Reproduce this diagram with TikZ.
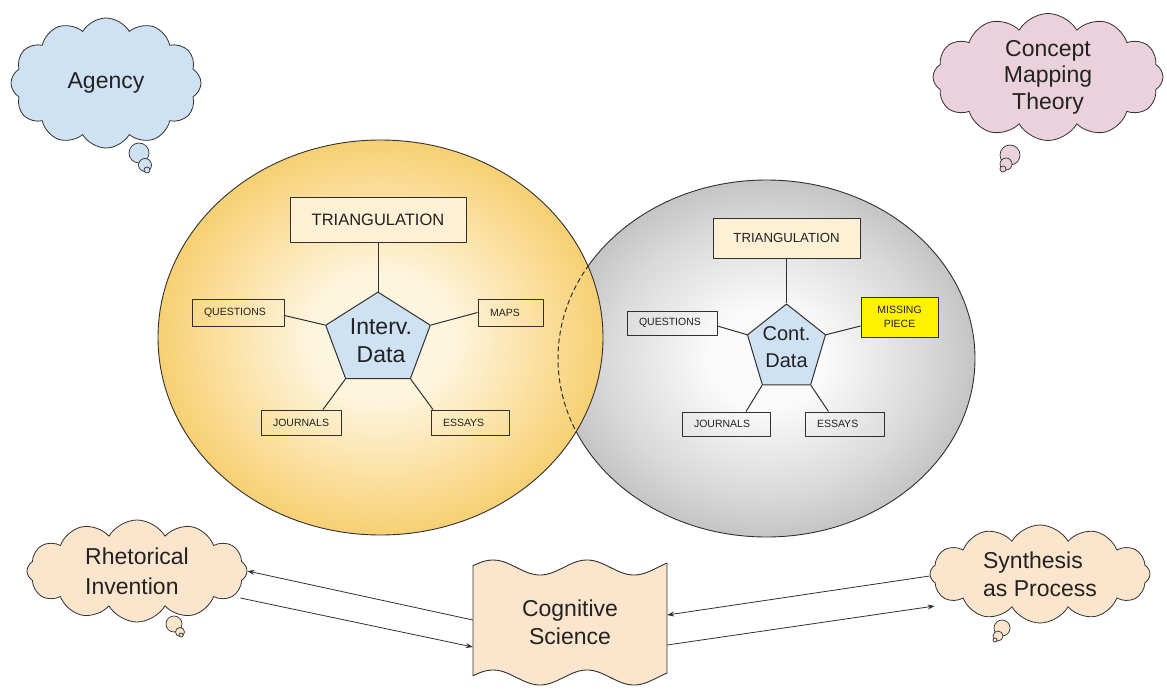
\documentclass[tikz,border=0pt]{standalone}
\usepackage{fontspec}
\setmainfont{Liberation Sans}
\usetikzlibrary{shapes.symbols,shapes.geometric,arrows.meta}
\definecolor{cblue}{HTML}{CFE2F3}
\definecolor{cpink}{HTML}{EAD1DC}
\definecolor{cpeach}{HTML}{FCE5CD}
\definecolor{ycore}{HTML}{FEF5DF}
\definecolor{ymid}{HTML}{FADD98}
\definecolor{yedge}{HTML}{F3C554}
\definecolor{gcore}{HTML}{FAFAFA}
\definecolor{gmid}{HTML}{D9D9D9}
\definecolor{gedge}{HTML}{B0B0B0}
\definecolor{cream}{HTML}{FDF0D5}
\definecolor{ln}{HTML}{303030}
\definecolor{tx}{HTML}{222222}
\pgfdeclareradialshading{yshade}{\pgfpoint{0bp}{0bp}}{color(0bp)=(ycore); color(8bp)=(ycore); color(19bp)=(ymid); color(30bp)=(yedge); color(50bp)=(yedge)}
\pgfdeclareradialshading{gshade}{\pgfpoint{0bp}{0bp}}{color(0bp)=(gcore); color(7bp)=(gcore); color(19bp)=(gmid); color(31bp)=(gedge); color(50bp)=(gedge)}
\begin{document}
\begin{tikzpicture}[x=1pt,y=-1pt,line join=round,
  thought/.style={cloud, cloud puffs=12, cloud puff arc=120, cloud ignores aspect,
    draw=ln, line width=0.8pt, inner sep=0pt, text=tx, align=left,
    font=\fontsize{23}{27}\selectfont},
  tailc/.style={draw=ln, line width=0.7pt},
  bigbox/.style={draw=ln, line width=1pt, fill=cream, inner sep=0pt, text=tx},
  smallbox/.style={draw=ln, line width=0.9pt, inner xsep=12pt, inner ysep=0pt,
    align=left, text=tx, font=\fontsize{10.5}{12}\selectfont},
  pent/.style={regular polygon, regular polygon sides=5, draw=ln, line width=1pt,
    fill=cblue, inner sep=0pt},
  penttxt/.style={align=center, text=tx, inner sep=0pt},
  conn/.style={draw=ln, line width=1pt},
  arr/.style={draw=ln, line width=0.8pt, -{Stealth[length=7pt,width=5pt]}}]
\useasboundingbox (0,0) rectangle (1167,698);

% big ellipses
\shade[shading=gshade] (766.5,358.5) ellipse [x radius=208.5, y radius=178.5];
\draw[ln, line width=0.9pt] (766.5,358.5) ellipse [x radius=208.5, y radius=178.5];
\shade[shading=yshade] (380.5,337.5) ellipse [x radius=222.5, y radius=197.5];
\draw[ln, line width=0.9pt] (380.5,337.5) ellipse [x radius=222.5, y radius=197.5];
\begin{scope}
  \clip (380.5,337.5) ellipse [x radius=222.5, y radius=197.5];
  \draw[ln, line width=1pt, dash pattern=on 5pt off 3pt] (766.5,358.5) ellipse [x radius=208.5, y radius=178.5];
\end{scope}

% left map
\node[bigbox, minimum width=176pt, minimum height=45pt, font=\fontsize{16.5}{20}\selectfont] (it) at (378,219.5) {TRIANGULATION};
\node[smallbox, text width=68pt, minimum height=27pt] (iq) at (238,312.5) {QUESTIONS};
\node[smallbox, text width=41pt, minimum height=27pt] (im) at (510.5,312.5) {MAPS};
\node[smallbox, text width=56pt, minimum height=25pt] (ij) at (301,422.5) {JOURNALS};
\node[smallbox, text width=54pt, minimum height=25pt] (ie) at (470,422.5) {ESSAYS};
\node[pent, minimum size=110pt, yscale=0.87] (ip) at (378,340) {};
\node[penttxt, font=\fontsize{23}{28}\selectfont] (ipt) at (381,341) {Interv.\\Data};
\draw[conn] (it.south) -- (ip.corner 1);
\draw[conn] ([yshift=-3pt]iq.east) -- (ip.corner 2);
\draw[conn] (ip.corner 5) -- (im.west);
\draw[conn] (ip.corner 3) -- ([xshift=22pt]ij.north);
\draw[conn] (ip.corner 4) -- ([xshift=-37pt]ie.north);

% right map
\node[bigbox, minimum width=147pt, minimum height=40pt, font=\fontsize{13.2}{16}\selectfont] (rt) at (786.5,238) {TRIANGULATION};
\node[smallbox, text width=66pt, minimum height=24pt] (rq) at (672,323) {QUESTIONS};
\node[draw=ln, line width=1pt, fill=yellow, minimum width=77pt, minimum height=40pt, inner sep=0pt,
  align=center, text=tx, font=\fontsize{10.5}{13.5}\selectfont] (rm) at (899.5,317) {MISSING\\PIECE};
\node[smallbox, text width=64pt, minimum height=24pt] (rj) at (726,424) {JOURNALS};
\node[smallbox, text width=55pt, minimum height=24pt] (re) at (844.5,424) {ESSAYS};
\node[pent, minimum size=82pt, yscale=1.09] (rp) at (786.5,348.7) {};
\node[penttxt, font=\fontsize{20}{27}\selectfont] (rpt) at (786.5,347) {Cont.\\Data};
\draw[conn] (rt.south) -- (rp.corner 1);
\draw[conn] ([yshift=-3pt]rq.east) -- (rp.corner 2);
\draw[conn] (rp.corner 5) -- ([yshift=-9pt]rm.west);
\draw[conn] (rp.corner 3) -- ([xshift=20pt]rj.north);
\draw[conn] (rp.corner 4) -- ([xshift=-16pt]re.north);

% thought clouds (tails first)
\draw[tailc, fill=cblue] (139,153) circle (10);
\draw[tailc, fill=cblue] (145,165) circle (6.5);
\draw[tailc, fill=cblue] (147,170) circle (3);
\node[thought, fill=cblue, minimum width=190pt, minimum height=130pt] (ag) at (106,83) {Agency};

\draw[tailc, fill=cpink] (1010,155) circle (10);
\draw[tailc, fill=cpink] (1006,164) circle (6);
\draw[tailc, fill=cpink] (1003,169) circle (3);
\node[thought, fill=cpink, align=center, minimum width=230pt, minimum height=127pt,
  font=\fontsize{23}{26.5}\selectfont] (cm) at (1048,77) {Concept\\Mapping\\Theory};

\draw[tailc, fill=cpeach] (174,624) circle (8);
\draw[tailc, fill=cpeach] (180,632) circle (4.5);
\draw[tailc, fill=cpeach] (181,635) circle (2);
\node[thought, fill=cpeach, minimum width=220pt, minimum height=102pt,
  font=\fontsize{23}{30}\selectfont] (ri) at (137,571) {Rhetorical\\Invention};

\draw[tailc, fill=cpeach] (1002,628) circle (8);
\draw[tailc, fill=cpeach] (998,636) circle (5);
\draw[tailc, fill=cpeach] (995,640) circle (2);
\node[thought, fill=cpeach, minimum width=220pt, minimum height=98pt,
  font=\fontsize{23}{28}\selectfont] (sp) at (1040,574) {Synthesis\\as Process};

% cognitive science wave box
\filldraw[fill=cpeach, draw=ln, line width=0.9pt]
  plot[domain=473:667, samples=80] (\x, {567.5-7.5*sin(3.8298*(\x-469.5))})
  -- plot[domain=667:473, samples=80] (\x, {677.5-7.5*sin(3.8298*(\x-469.5))}) -- cycle;
\node[minimum width=194pt, minimum height=100pt, inner sep=0pt, align=center, text=tx,
  font=\fontsize{23}{28}\selectfont] (cs) at (570,622) {Cognitive\\Science};

% arrows
\draw[arr] ([yshift=2pt]cs.west) -- (ri.east);
\draw[arr] ([xshift=-7pt,yshift=-27pt]ri.east) -- ([yshift=-25pt]cs.west);
\draw[arr] ([yshift=-2pt]sp.west) -- ([yshift=7pt]cs.east);
\draw[arr] ([yshift=-23pt]cs.east) -- ([xshift=5pt,yshift=-32pt]sp.west);
\end{tikzpicture}
\end{document}
